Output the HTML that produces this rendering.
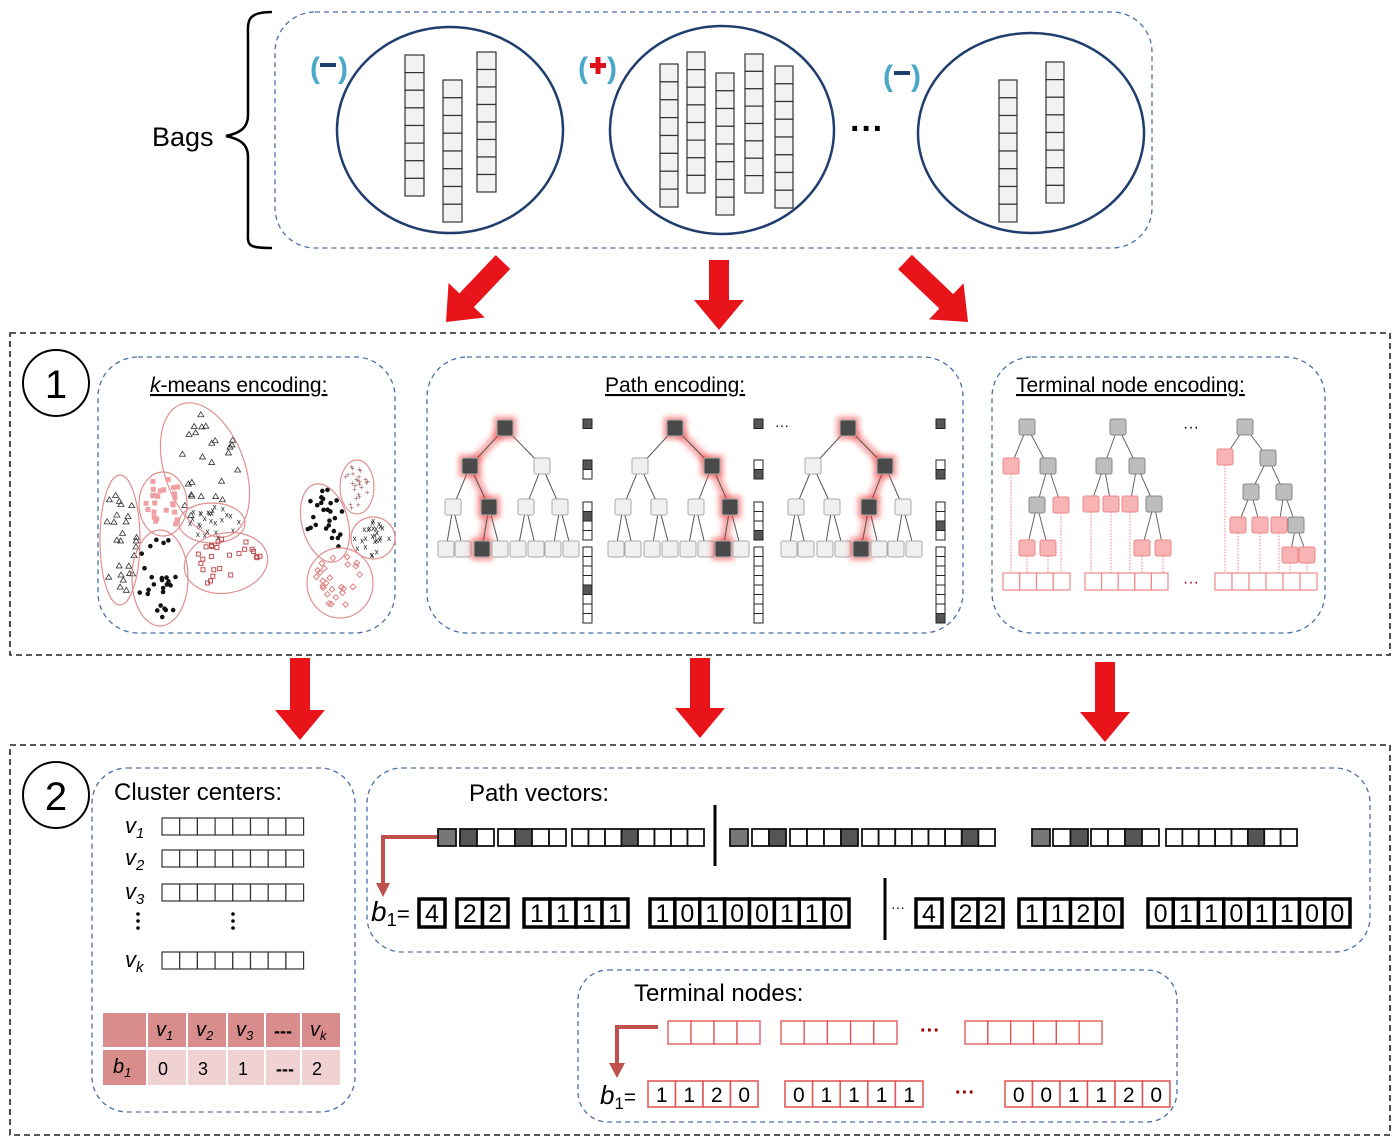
<!DOCTYPE html>
<html><head><meta charset="utf-8"><style>
html,body{margin:0;padding:0;background:#fff;width:1395px;height:1142px;overflow:hidden}
svg{display:block}
text{font-family:"Liberation Sans",sans-serif}
</style></head><body>
<svg id="s" width="1395" height="1142" viewBox="0 0 1395 1142" xmlns="http://www.w3.org/2000/svg">
<defs>
<filter id="glow" x="-50%" y="-50%" width="200%" height="200%"><feGaussianBlur stdDeviation="3"/></filter>
</defs>
<!-- Bags -->
<text x="152" y="146" font-size="27">Bags</text>
<path d="M272 12 C245 12 248 22 248 40 L248 115 C248 128 240 133 226 136 C240 139 248 144 248 157 L248 228 C248 245 245 248 272 248" fill="none" stroke="#000" stroke-width="2.5"/>
<rect x="275" y="12" width="877" height="236" rx="40" fill="none" stroke="#4a6fa5" stroke-width="1.3" stroke-dasharray="5,4"/>
<ellipse cx="450" cy="130" rx="113" ry="103" fill="none" stroke="#1f3e6e" stroke-width="2.5"/>
<ellipse cx="722" cy="130" rx="112" ry="104" fill="none" stroke="#1f3e6e" stroke-width="2.5"/>
<ellipse cx="1031" cy="133" rx="113" ry="100" fill="none" stroke="#1f3e6e" stroke-width="2.5"/>
<text x="310" y="78" font-size="30" fill="#4aa8c8" font-weight="bold">(</text><rect x="320" y="63" width="16" height="4" fill="#1f3e6e"/><text x="338" y="78" font-size="30" fill="#4aa8c8" font-weight="bold">)</text>
<text x="578" y="78" font-size="30" fill="#4aa8c8" font-weight="bold">(</text><rect x="590" y="63" width="16" height="5" fill="#e0101a"/><rect x="595.5" y="57" width="5" height="17" fill="#e0101a"/><text x="607" y="78" font-size="30" fill="#4aa8c8" font-weight="bold">)</text>
<text x="883" y="86" font-size="30" fill="#4aa8c8" font-weight="bold">(</text><rect x="894" y="71" width="16" height="4" fill="#1f3e6e"/><text x="911" y="86" font-size="30" fill="#4aa8c8" font-weight="bold">)</text>
<text x="850" y="140" font-size="34" font-weight="bold">···</text>
<g id="bagcols"></g>
<!-- section boxes -->
<rect x="10" y="333" width="1380" height="322" fill="none" stroke="#222" stroke-width="1.6" stroke-dasharray="6,4"/>
<rect x="10" y="745" width="1380" height="390" fill="none" stroke="#222" stroke-width="1.6" stroke-dasharray="6,4"/>
<circle cx="56" cy="383" r="33" fill="#fff" stroke="#000" stroke-width="2"/>
<text x="56" y="398" font-size="40" text-anchor="middle" font-family="Liberation Serif">1</text>
<circle cx="56" cy="795" r="33" fill="#fff" stroke="#000" stroke-width="2"/>
<text x="56" y="810" font-size="40" text-anchor="middle" font-family="Liberation Serif">2</text>
<g fill="none" stroke="#4a6fa5" stroke-width="1.3" stroke-dasharray="5,4">
<rect x="98" y="357" width="297" height="276" rx="40"/>
<rect x="427" y="357" width="536" height="276" rx="40"/>
<rect x="992" y="357" width="333" height="276" rx="40"/>
<rect x="92" y="768" width="263" height="344" rx="35"/>
<rect x="367" y="768" width="1003" height="184" rx="35"/>
<rect x="578" y="970" width="599" height="152" rx="30"/>
</g>
<text x="150" y="392" font-size="21" text-decoration="underline"><tspan font-style="italic">k</tspan>-means encoding:</text>
<text x="605" y="392" font-size="21" text-decoration="underline">Path encoding:</text>
<text x="1016" y="392" font-size="21" text-decoration="underline">Terminal node encoding:</text>
<g id="km"></g>
<g id="pe"></g>
<g id="te"></g>
<g id="arrows" fill="#e8141a"></g>
<!-- section 2 -->
<text x="114" y="800" font-size="24">Cluster centers:</text>
<g id="cc"></g>
<text x="469" y="801" font-size="24">Path vectors:</text>
<g id="pv"></g>
<text x="634" y="1001" font-size="24">Terminal nodes:</text>
<g id="tn"></g>
</svg>
<script>
var NS="http://www.w3.org/2000/svg";
function el(p,t,a,txt){var e=document.createElementNS(NS,t);for(var k in a)e.setAttribute(k,a[k]);if(txt!==undefined)e.textContent=txt;document.getElementById(p).appendChild(e);return e;}
function col(p,x,y1,y2,w,n,fill){var h=(y2-y1)/n;for(var i=0;i<n;i++)el(p,'rect',{x:x,y:y1+i*h,width:w,height:h,fill:fill||'#f2f2f2',stroke:'#333','stroke-width':1.2});}
[[405,55,196],[443,80,222],[477,52,192]].forEach(c=>col('bagcols',c[0],c[1],c[2],19,8));
[[660,64,207],[687,52,193],[716,73,215],[745,54,193],[775,66,208]].forEach(c=>col('bagcols',c[0],c[1],c[2],18,8));
[[999,80,222],[1046,62,203]].forEach(c=>col('bagcols',c[0],c[1],c[2],18,8));
function arrow(x1,y1,x2,y2){var dx=x2-x1,dy=y2-y1,L=Math.hypot(dx,dy),ux=dx/L,uy=dy/L,px=-uy,py=ux;var sw=10,hw=25,hl=30;var bx=x2-ux*hl,by=y2-uy*hl;
var pts=[[x1+px*sw,y1+py*sw],[bx+px*sw,by+py*sw],[bx+px*hw,by+py*hw],[x2,y2],[bx-px*hw,by-py*hw],[bx-px*sw,by-py*sw],[x1-px*sw,y1-py*sw]];
el('arrows','polygon',{points:pts.map(p=>p.join(',')).join(' ')});}
arrow(503,262,446,322);arrow(719,260,719,330);arrow(905,262,968,322);
arrow(300,658,300,740);arrow(700,658,700,738);arrow(1105,662,1105,742);
var seed=7;function rnd(){seed=(seed*16807)%2147483647;return seed/2147483647;}
var ells=[[205,470,40,70,-20],[163,504,24,32,0],[120,540,20,65,0],[212,523,33,20,0],[160,578,28,48,0],[226,563,42,30,-10],[357,487,17,27,0],[325,523,23,40,-15],[373,538,22,21,0],[340,583,33,35,0]];
var types=['t','s','v','x','d','s2','p','d','x','o'];
ells.forEach((e,i)=>{
 for(var j=0;j<26;j++){var a=rnd()*6.283,r=Math.sqrt(rnd())*0.85;var x=e[0]+Math.cos(a)*e[2]*r,y=e[1]+Math.sin(a)*e[3]*r;var t=types[i];
  if(t=='d')el('km','circle',{cx:x,cy:y,r:2.3,fill:'#111'});
  else if(t=='s')el('km','rect',{x:x-2.5,y:y-2.5,width:5,height:5,fill:'#f0a0a0'});
  else if(t=='s2')el('km','rect',{x:x-2,y:y-2,width:4,height:4,fill:'none',stroke:'#c05050'});
  else if(t=='o')el('km','rect',{x:x-2,y:y-2,width:4,height:4,fill:'none',stroke:'#e08080',transform:'rotate(45 '+x+' '+y+')'});
  else if(t=='p')el('km','text',{x:x-3,y:y+3,'font-size':8,fill:'#a06060'},'+');
  else if(t=='x')el('km','text',{x:x-3,y:y+3,'font-size':8,fill:'#222'},'x');
  else el('km','polygon',{points:(x)+','+(y-3)+' '+(x-3)+','+(y+2)+' '+(x+3)+','+(y+2),fill:'none',stroke:'#333','stroke-width':0.8});
 }
 el('km','ellipse',{cx:e[0],cy:e[1],rx:e[2],ry:e[3],fill:'none',stroke:'#e09090','stroke-width':1.2,transform:'rotate('+e[4]+' '+e[0]+' '+e[1]+')'});
});
function node(p,x,y,dark,cls){var s=16;if(dark){el(p,'rect',{x:x-s/2-3,y:y-s/2-3,width:s+6,height:s+6,fill:'#f04040',opacity:0.6,filter:'url(#glow)'});}
 el(p,'rect',{x:x-s/2,y:y-s/2,width:s,height:s,rx:2,fill:dark?'#4a4a4a':(cls||'#f0f0f0'),stroke:'#aaa','stroke-width':1});}
function tree(ox,path,vx,vpat){
 var root=[505+ox,428],l2=[[470+ox,466],[542+ox,466]],l3=[[453,507],[489,507],[526,507],[560,507]].map(p=>[p[0]+ox,p[1]]),l4=[446,463,482,500,518,536,553,571].map(x=>[x+ox,549]);
 var pp=[root,l2[path[0]],l3[path[1]],l4[path[2]]];
 el('pe','polyline',{points:pp.map(p=>p.join(',')).join(' '),fill:'none',stroke:'#f05050','stroke-width':9,opacity:0.5,filter:'url(#glow)'});
 function ln(a,b){el('pe','line',{x1:a[0],y1:a[1],x2:b[0],y2:b[1],stroke:'#555','stroke-width':1});}
 l2.forEach(p=>ln(root,p));l3.forEach((p,i)=>ln(l2[i>>1],p));l4.forEach((p,i)=>ln(l3[i>>1],p));
 node('pe',root[0],root[1],true);l2.forEach((p,i)=>node('pe',p[0],p[1],i==path[0]));l3.forEach((p,i)=>node('pe',p[0],p[1],i==path[1]));l4.forEach((p,i)=>node('pe',p[0],p[1],i==path[2]));
 var h=9.5;var groups=[1,2,4,8],gy=[419,460,502,547];
 groups.forEach((n,g)=>{for(var i=0;i<n;i++){var d=vpat[g]==i;el('pe','rect',{x:vx,y:gy[g]+i*h,width:9,height:h,fill:d?'#555':'#fff',stroke:'#222','stroke-width':1});}});
}
tree(0,[0,1,2],583,[0,0,1,4]);
tree(170,[1,3,6],754,[0,1,3,12]);
tree(343,[1,2,4],936,[0,1,2,7]);
el('pe','text',{x:775,y:430,'font-size':14},'···');
function tnode(x,y,red){el('te','rect',{x:x-8,y:y-8,width:16,height:16,rx:2,fill:red?'#f8b4b4':'#bdbdbd',stroke:red?'#e88':'#888'});}
function tl(a,b){el('te','line',{x1:a[0],y1:a[1],x2:b[0],y2:b[1],stroke:'#666','stroke-width':1});}
function ttree(nodes,edges,row){
 edges.forEach(e=>tl(nodes[e[0]],nodes[e[1]]));
 var reds=nodes.filter(n=>n[2]);
 var n=reds.length,cw=(row[1]-row[0])/n;
 reds.forEach(r=>{el('te','line',{x1:r[0],y1:r[1]+8,x2:r[0],y2:573,stroke:'#f08080','stroke-width':1,'stroke-dasharray':'1.5,1.5'});});
 nodes.forEach(n=>tnode(n[0],n[1],n[2]));
 for(var i=0;i<n;i++)el('te','rect',{x:row[0]+i*cw,y:573,width:cw,height:17,fill:'#fff',stroke:'#e88','stroke-width':1.2});
}
ttree([[1027,427,0],[1011,466,1],[1048,466,0],[1037,505,0],[1061,505,1],[1027,548,1],[1048,548,1]],[[0,1],[0,2],[2,3],[2,4],[3,5],[3,6]],[1003,1070]);
ttree([[1118,427,0],[1104,466,0],[1137,466,0],[1091,504,1],[1111,504,1],[1130,504,1],[1154,504,0],[1142,548,1],[1163,548,1]],[[0,1],[0,2],[1,3],[1,4],[2,5],[2,6],[6,7],[6,8]],[1085,1168]);
ttree([[1245,427,0],[1225,457,1],[1268,458,0],[1251,492,0],[1284,492,0],[1238,525,1],[1260,525,1],[1279,525,1],[1296,525,0],[1290,555,1],[1307,555,1]],[[0,1],[0,2],[2,3],[2,4],[3,5],[3,6],[4,7],[4,8],[8,9],[8,10]],[1215,1317]);
el('te','text',{x:1183,y:432,'font-size':16},'···');
el('te','text',{x:1183,y:587,'font-size':16,fill:'#900'},'···');
[['1',826],['2',858],['3',892],['k',960]].forEach(r=>{
 var t=el('cc','text',{x:125,y:r[1]+7,'font-size':22,'font-style':'italic','font-family':'Liberation Serif'});t.textContent='v';
 var s=document.createElementNS(NS,'tspan');s.setAttribute('font-size',15);s.setAttribute('dy',5);s.textContent=r[0];t.appendChild(s);
 for(var i=0;i<8;i++)el('cc','rect',{x:162+i*17.7,y:r[1]-8,width:17.7,height:17,fill:'#fff',stroke:'#333','stroke-width':1.2});
});
[[138],[233]].forEach(c=>{for(var j=0;j<3;j++)el('cc','circle',{cx:c[0],cy:914+j*7,r:1.8,fill:'#000'});});
var cx=[103,148,188,228,266,302],cw=[43,38,38,36,34,38];
var hdr=['','1','2','3','---','k'],row=['b','0','3','1','---','2'];
cx.forEach((x,i)=>{
 el('cc','rect',{x:x,y:1013,width:cw[i],height:34,fill:'#d98c8c'});
 el('cc','rect',{x:x,y:1050,width:cw[i],height:35,fill:i==0?'#d98c8c':'#f0d2d2'});
 if(i>0){ if(hdr[i]=='---')el('cc','text',{x:x+cw[i]/2,y:1037,'font-size':18,'font-weight':'bold','text-anchor':'middle'},'---');
  else{var t=el('cc','text',{x:x+8,y:1036,'font-size':20,'font-style':'italic','font-family':'Liberation Serif'},'v');var s=document.createElementNS(NS,'tspan');s.setAttribute('font-size',13);s.setAttribute('dy',4);s.textContent=hdr[i];t.appendChild(s);}
  el('cc','text',{x:x+10,y:1075,'font-size':18,'font-weight':row[i]=='---'?'bold':'normal'},row[i]);
 } else {var t=el('cc','text',{x:x+10,y:1073,'font-size':20,'font-style':'italic','font-family':'Liberation Serif'},'b');var s=document.createElementNS(NS,'tspan');s.setAttribute('font-size',13);s.setAttribute('dy',4);s.textContent='1';t.appendChild(s);}
});
function seg(p,x1,x2,y,h,n,darks){var w=(x2-x1)/n;for(var i=0;i<n;i++)el(p,'rect',{x:x1+i*w,y:y,width:w,height:h,fill:darks.indexOf(i)>=0?(n==1?'#777':'#555'):'#fff',stroke:'#111','stroke-width':1.8});}
[[[438,456],[460,494],[498,566],[572,704]],[[730,748],[752,786],[790,858],[862,995]],[[1032,1050],[1053,1088],[1091,1159],[1166,1297]]].forEach((gs,k)=>{
 var pats=[[[0],[0],[1],[3]],[[0],[1],[3],[6]],[[0],[1],[2],[5]]][k];
 gs.forEach((g,j)=>seg('pv',g[0],g[1],829,17,[1,2,4,8][j],pats[j]));
});
el('pv','line',{x1:715,y1:805,x2:715,y2:866,stroke:'#000','stroke-width':3});
el('pv','line',{x1:885,y1:878,x2:885,y2:940,stroke:'#000','stroke-width':3});
el('pv','polyline',{points:'437,837 383,837 383,885',fill:'none',stroke:'#c0504d','stroke-width':4});
el('pv','polygon',{points:'376,883 390,883 383,897',fill:'#c0504d'});
function b1(p,x,y,fs){var t=el(p,'text',{x:x,y:y,'font-size':fs,'font-style':'italic','font-family':'Liberation Serif'},'b');var s=document.createElementNS(NS,'tspan');s.setAttribute('font-size',fs*0.65);s.setAttribute('dy',5);s.setAttribute('font-style','normal');s.textContent='1';t.appendChild(s);var s2=document.createElementNS(NS,'tspan');s2.setAttribute('dy',-5);s2.setAttribute('font-style','normal');s2.setAttribute('font-family','Liberation Sans');s2.setAttribute('font-size',fs*0.8);s2.textContent='=';t.appendChild(s2);}
b1('pv',371,921,28);
function digs(p,x1,x2,y,h,str,stroke,sw,fs){var n=str.length,w=(x2-x1)/n;for(var i=0;i<n;i++){el(p,'rect',{x:x1+i*w,y:y,width:w,height:h,fill:'#fff',stroke:stroke,'stroke-width':sw});el(p,'text',{x:x1+i*w+w/2,y:y+h-5,'font-size':fs,'text-anchor':'middle'},str[i]);}}
[[419,445,'4'],[457,508,'22'],[524,628,'1111'],[650,849,'10100110'],[916,942,'4'],[953,1003,'22'],[1019,1122,'1120'],[1148,1350,'01101100']].forEach(d=>digs('pv',d[0],d[1],899,28,d[2],'#000',3.5,25));
el('pv','text',{x:891,y:912,'font-size':14},'···');
[[668,760,4],[781,897,5],[965,1102,6]].forEach(g=>{var w=(g[1]-g[0])/g[2];for(var i=0;i<g[2];i++)el('tn','rect',{x:g[0]+i*w,y:1021,width:w,height:23,fill:'#fff',stroke:'#e05050','stroke-width':1.3});});
el('tn','text',{x:920,y:1037,'font-size':20,fill:'#900','font-weight':'bold'},'···');
el('tn','text',{x:955,y:1099,'font-size':20,fill:'#900','font-weight':'bold'},'···');
el('tn','polyline',{points:'658,1027 617,1027 617,1065',fill:'none',stroke:'#c0504d','stroke-width':4});
el('tn','polygon',{points:'609,1063 625,1063 617,1078',fill:'#c0504d'});
b1('tn',600,1104,26);
[[648,758,'1120'],[785,923,'01111'],[1005,1170,'001120']].forEach(d=>digs('tn',d[0],d[1],1081,26,d[2],'#e05050',1.5,21));
</script>
</body></html>
